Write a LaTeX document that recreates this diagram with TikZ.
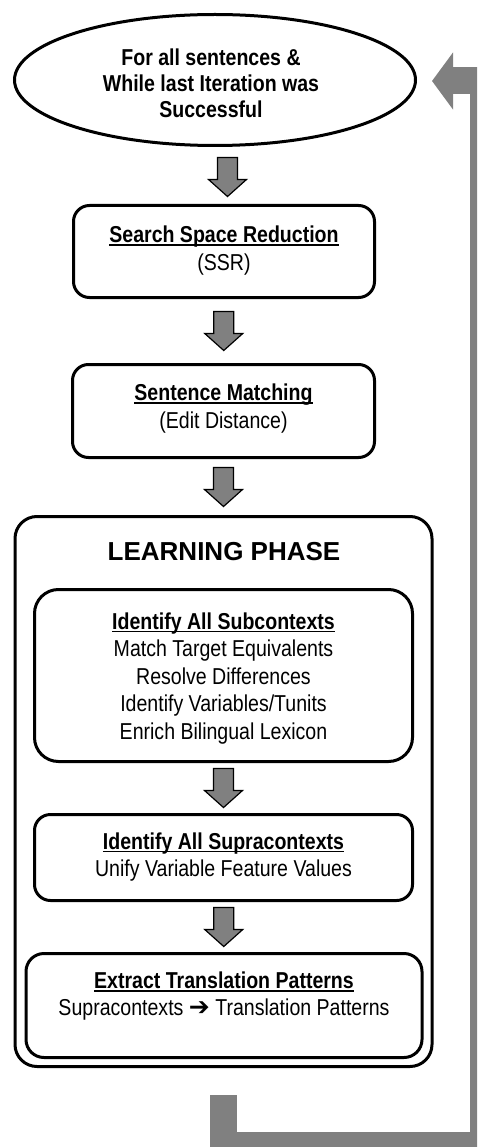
\documentclass[tikz,border=0pt]{standalone}
\usepackage{fontspec}
\setmainfont{Liberation Sans}
\newfontfamily\boxfont[FakeStretch=0.85]{Liberation Sans}
\newfontfamily\symfont{DejaVu Sans}
\usetikzlibrary{shapes.geometric,arrows.meta,calc}
\definecolor{arrgray}{HTML}{808080}
\newcommand{\ulin}[1]{\setbox0\hbox{#1}\rlap{\rule[-3.2pt]{\wd0}{1.7pt}}\box0}
\tikzset{
  x=1pt, y=-1pt,
  boxline/.style={draw=black, line width=3pt, fill=white, inner sep=0pt},
  roundbox/.style={boxline, rectangle, rounded corners=#1},
  roundbox/.default=16pt,
  boxtext/.style={align=center, inner sep=0pt, font=\boxfont\fontsize{23}{27.5}\selectfont},
  downarr/.pic={
    \filldraw[fill=arrgray, draw=black, line width=1.2pt, line join=miter]
      (-10,-19.5) -- (10,-19.5) -- (10,2.5) -- (19,2.5) -- (0,19.5)
      -- (-19,2.5) -- (-10,2.5) -- cycle;
  },
  returnarrow/.style={draw=arrgray, line width=27pt, line join=miter,
    -{Triangle[length=21pt, width=56pt]}}
}
\begin{document}
\begin{tikzpicture}
\useasboundingbox (0,0) rectangle (477,1147);
\clip (0,0) rectangle (477,1147);

% start node
\node[boxline, ellipse, minimum width=401pt, minimum height=131pt] (start) at (215,80) {};
\node[boxtext, font=\boxfont\bfseries\fontsize{23}{26}\selectfont] (starttxt) at (211,86)
  {\strut For all sentences \&\\\strut While last Iteration was\\\strut Successful};

% SSR
\node[roundbox=16pt, minimum width=301pt, minimum height=92pt] (ssr) at (224,251.5) {};
\node[boxtext] (ssrtxt) at (224,251)
  {\strut\bfseries\ulin{Search Space Reduction}\\\strut(SSR)};

% Sentence matching
\node[roundbox=16pt, minimum width=302pt, minimum height=93pt] (sm) at (223.5,411) {};
\node[boxtext] (smtxt) at (223.5,409)
  {\strut\bfseries\ulin{Sentence Matching}\\\strut(Edit Distance)};

% Learning phase
\node[roundbox=22pt, minimum width=417pt, minimum height=550pt] (lp) at (223.5,791.5) {};
\node[anchor=base, inner sep=0pt, font=\bfseries\fontsize{26}{30}\selectfont] (lptxt) at (224,560) {LEARNING PHASE};

% Subcontexts
\node[roundbox=24pt, minimum width=378pt, minimum height=172pt] (sub) at (223.5,675.5) {};
\node[boxtext] (subtxt) at (223.5,678.6)
  {\strut\bfseries\ulin{Identify All Subcontexts}\\\strut Match Target Equivalents\\\strut Resolve Differences\\\strut Identify Variables/Tunits\\\strut Enrich Bilingual Lexicon};

% Supracontexts
\node[roundbox=16pt, minimum width=378pt, minimum height=86pt] (sup) at (223.5,857.5) {};
\node[boxtext] (suptxt) at (223.5,857.5)
  {\strut\bfseries\ulin{Identify All Supracontexts}\\\strut Unify Variable Feature Values};

% Extract
\node[roundbox=18pt, minimum width=396pt, minimum height=104pt] (ext) at (224,1005.5) {};
\node[boxtext] (exttxt) at (224,996.7)
  {\strut\bfseries\ulin{Extract Translation Patterns}\\\strut Supracontexts {\symfont\bfseries\fontsize{25}{25}\selectfont ➔} Translation Patterns};

% down arrows
\pic at ($(start.south)!0.5!(ssr.north)+(8,1.5)$) {downarr};
\pic at ($(ssr.south)!0.5!(sm.north)$) {downarr};
\pic at ($(sm.south)!0.5!(lp.north)$) {downarr};
\pic at ($(sub.south)!0.5!(sup.north)$) {downarr};
\pic at ($(sup.south)!0.5!(ext.north)$) {downarr};

% return arrow
\coordinate (retstart) at (223.5,1095);
\coordinate (rettip) at (432,81);
\draw[returnarrow] (retstart) |- (483,1145.5) |- (rettip);
\end{tikzpicture}
\end{document}
